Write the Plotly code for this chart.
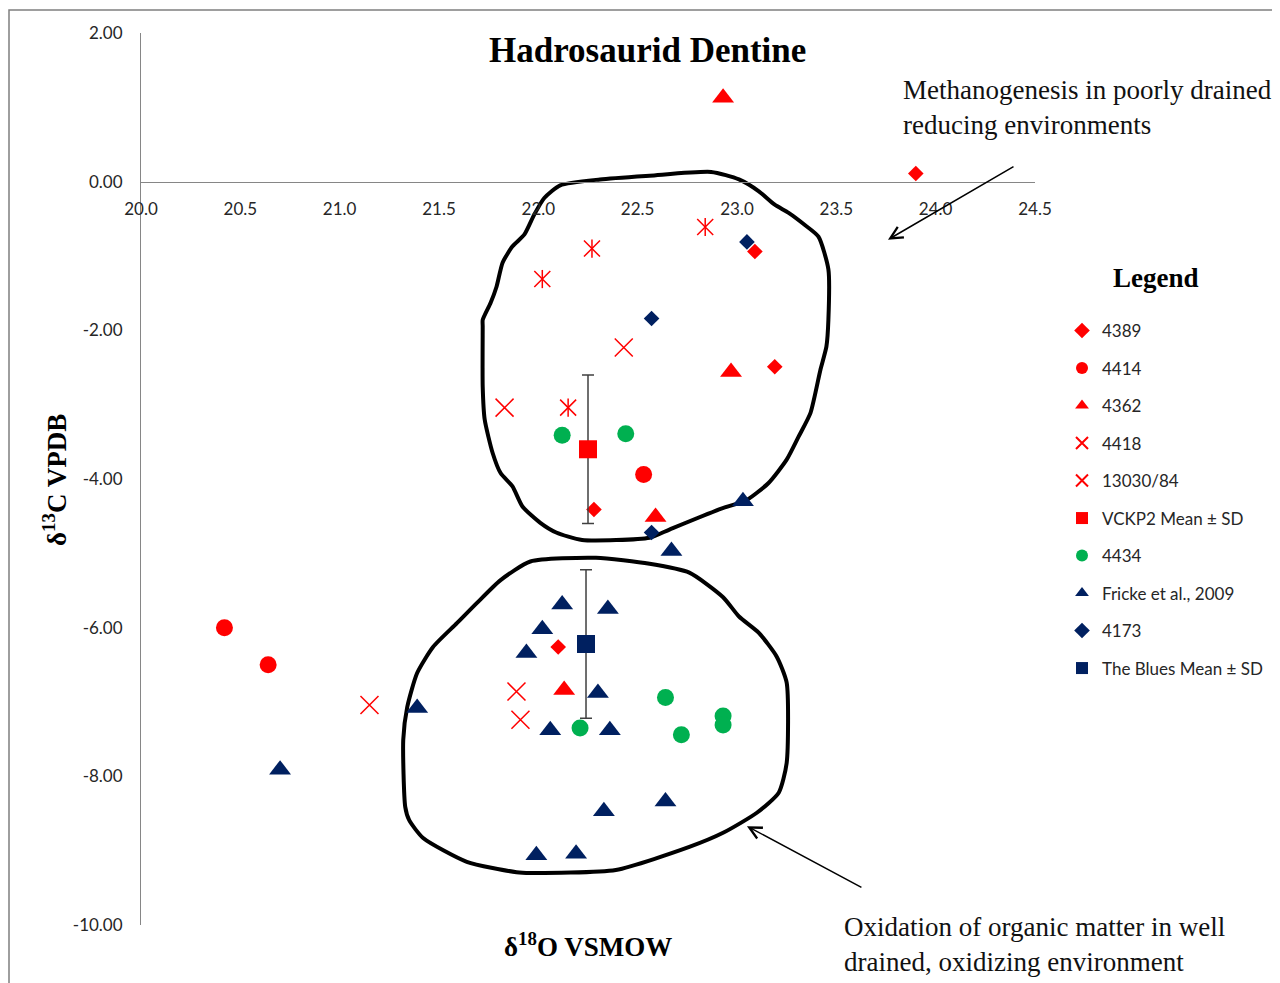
import plotly.graph_objects as go

# ---------------- data (δ18O VSMOW, δ13C VPDB) ----------------
d4389_x = [23.90, 23.09, 23.19, 22.28, 22.10]
d4389_y = [0.11, -0.94, -2.49, -4.41, -6.26]

d4414_x = [20.42, 20.64, 22.53]
d4414_y = [-6.00, -6.50, -3.94]

d4362_x = [22.93, 22.97, 22.59, 22.13]
d4362_y = [1.13, -2.56, -4.51, -6.84]

d4418_x = [21.83, 22.43, 21.15, 21.89, 21.91]
d4418_y = [-3.04, -2.23, -7.04, -6.86, -7.24]

d13030_x = [22.02, 22.27, 22.84, 22.15]
d13030_y = [-1.31, -0.90, -0.61, -3.04]

vckp2_x = [22.25]
vckp2_y = [-3.60]
vckp2_sd = [1.00]

d4434_x = [22.12, 22.44, 22.21, 22.64, 22.72, 22.93, 22.93]
d4434_y = [-3.41, -3.39, -7.35, -6.94, -7.44, -7.19, -7.31]

fricke_x = [20.70, 21.39, 22.67, 22.12, 22.35, 22.02, 21.94, 22.30,
            22.06, 22.36, 22.33, 22.64, 21.99, 22.19, 23.03]
fricke_y = [-7.91, -7.08, -4.97, -5.69, -5.75, -6.02, -6.34, -6.88,
            -7.38, -7.38, -8.47, -8.34, -9.06, -9.04, -4.30]

d4173_x = [23.05, 22.57, 22.57]
d4173_y = [-0.81, -1.84, -4.72]

blues_x = [22.24]
blues_y = [-6.22]
blues_sd = [1.00]

# hand-drawn outlines (data coordinates)
upper_loop_x = [21.72, 21.72, 21.73, 21.77, 21.81, 21.87, 21.92, 22.01, 22.09, 22.22,
                22.56, 22.66, 22.91, 23.05, 23.16, 23.25, 23.31, 23.37, 23.42, 23.45,
                23.46, 23.46, 23.41, 23.34, 23.26, 23.19, 23.11, 23.01, 22.87, 22.56,
                22.31, 22.11, 22.03, 21.98, 21.93, 21.87, 21.82, 21.79, 21.76, 21.72, 21.72]
upper_loop_y = [-1.95, -2.76, -3.20, -3.65, -3.92, -4.10, -4.37, -4.59, -4.72, -4.82,
                -4.79, -4.68, -4.41, -4.28, -4.05, -3.74, -3.43, -3.11, -2.53, -2.22,
                -1.86, -1.18, -0.74, -0.58, -0.42, -0.31, -0.13, 0.03, 0.13, 0.08,
                0.03, -0.05, -0.22, -0.44, -0.71, -0.87, -1.09, -1.41, -1.63, -1.86, -1.95]

lower_loop_x = [21.96, 22.29, 22.56, 22.76, 22.93, 23.01, 23.11, 23.20, 23.25, 23.25,
                23.21, 23.10, 22.93, 22.76, 22.39, 21.96, 21.89, 21.64, 21.42, 21.35,
                21.33, 21.32, 21.34, 21.39, 21.47, 21.59, 21.69, 21.81, 21.96]
lower_loop_y = [-5.11, -5.06, -5.14, -5.26, -5.59, -5.85, -6.07, -6.39, -6.74, -7.82,
                -8.22, -8.49, -8.76, -8.95, -9.26, -9.30, -9.29, -9.15, -8.83, -8.59,
                -8.41, -7.51, -7.07, -6.61, -6.26, -5.94, -5.67, -5.36, -5.11]

x_ticks = [20.0, 20.5, 21.0, 21.5, 22.0, 22.5, 23.0, 23.5, 24.0, 24.5]
y_ticks = [2, 0, -2, -4, -6, -8, -10]

RED = "#FF0000"
GREEN = "#00B050"
NAVY = "#002060"
SERIF = "Liberation Serif"
SANS = "Lato"

fig = go.Figure()

for lx, ly in [(upper_loop_x, upper_loop_y), (lower_loop_x, lower_loop_y)]:
    fig.add_trace(go.Scatter(x=lx, y=ly, mode="lines",
                             line=dict(color="black", width=4, shape="spline", smoothing=0.6),
                             showlegend=False, hoverinfo="skip"))

def add(name, x, y, symbol, color, size, group, open_line=None, err=None):
    marker = dict(symbol=symbol, color=color, size=size)
    if open_line:
        marker["line"] = dict(color=color, width=open_line)
    else:
        marker["line"] = dict(width=0)
    kw = {}
    if err is not None:
        kw["error_y"] = dict(type="data", array=err, color="#404040", thickness=1.5, width=6)
    fig.add_trace(go.Scatter(x=x, y=y, mode="markers", name=name, marker=marker,
                             legendgroup=group, **kw))

add("4389", d4389_x, d4389_y, "diamond", RED, 12, "g1")
add("4414", d4414_x, d4414_y, "circle", RED, 17, "g2")
add("4362", d4362_x, d4362_y, "triangle-up", RED, 19, "g3")
add("4418", d4418_x, d4418_y, "x-thin-open", RED, 18, "g4", open_line=1.5)
add("13030/84", d13030_x, d13030_y, "x-thin-open", RED, 16, "g5", open_line=1.5)
fig.add_trace(go.Scatter(x=d13030_x, y=d13030_y, mode="markers", showlegend=False, legendgroup="g5",
                         marker=dict(symbol="line-ns-open", size=13, color=RED,
                                     line=dict(color=RED, width=1.5))))
add("VCKP2 Mean ± SD", vckp2_x, vckp2_y, "square", RED, 18, "g6", err=vckp2_sd)
add("4434", d4434_x, d4434_y, "circle", GREEN, 17, "g7")
add("Fricke et al., 2009", fricke_x, fricke_y, "triangle-up", NAVY, 19, "g8")
add("4173", d4173_x, d4173_y, "diamond", NAVY, 12, "g9")
add("The Blues Mean ± SD", blues_x, blues_y, "square", NAVY, 18, "g10", err=blues_sd)

# page body adds an 8px offset; compensate
OFF = 8
L, R, T, B = 141, 1035, 33, 925          # plot area in screenshot pixels
W, H = 1280 - OFF, 983 - OFF
pw, ph = R - L, B - T

def px_x(p):
    return (p - L) / pw

def px_y(p):
    return (B - p) / ph

fig.update_layout(
    width=W, height=H, autosize=False,
    margin=dict(l=L - OFF, r=W - (R - OFF), t=T - OFF, b=H - (B - OFF), pad=0),
    paper_bgcolor="white", plot_bgcolor="white",
    showlegend=True,
    legend=dict(x=px_x(1062), y=px_y(313), xanchor="left", yanchor="top",
                font=dict(family=SANS, size=17, color="#262626"),
                tracegroupgap=12.4, itemsizing="constant", bgcolor="rgba(0,0,0,0)",
                itemwidth=30),
    xaxis=dict(range=[20.0, 24.5], tickvals=x_ticks, ticktext=[f"{v:.1f}" for v in x_ticks],
               showgrid=False, zeroline=False, showline=True, linecolor="#868686", linewidth=1,
               anchor="free", position=px_y(182), ticks="", ticklabelstandoff=12,
               tickfont=dict(family=SANS, size=17, color="#262626")),
    yaxis=dict(range=[-10, 2], tickvals=y_ticks, ticktext=[f"{v:.2f}" for v in y_ticks],
               showgrid=False, zeroline=False, showline=True, linecolor="#868686", linewidth=1,
               ticks="", ticklabelstandoff=14,
               tickfont=dict(family=SANS, size=17, color="#262626")),
    hovermode=False,
)

# outer frame
fig.add_shape(type="rect", xref="paper", yref="paper", x0=px_x(9), x1=px_x(1300), y0=px_y(1000), y1=px_y(10),
              line=dict(color="#7f7f7f", width=1.5), fillcolor="rgba(0,0,0,0)", layer="below")

ann = [
    dict(text="<b>Hadrosaurid Dentine</b>", x=px_x(647), y=px_y(50), size=35),
    dict(text="<b>δ<sup>18</sup>O VSMOW</b>", x=px_x(588), y=px_y(945), size=27),
    dict(text="<b>Legend</b>", x=px_x(1156), y=px_y(278), size=27),
]
for a in ann:
    fig.add_annotation(text=a["text"], x=a["x"], y=a["y"], xref="paper", yref="paper",
                       showarrow=False, xanchor="center", yanchor="middle",
                       font=dict(family=SERIF, size=a["size"], color="black"))

fig.add_annotation(text="<b>δ<sup>13</sup>C VPDB</b>", x=px_x(55), y=px_y(480), xref="paper", yref="paper",
                   showarrow=False, textangle=-90, xanchor="center", yanchor="middle",
                   font=dict(family=SERIF, size=27, color="black"))

fig.add_annotation(text="Methanogenesis in poorly drained<br>reducing environments",
                   x=px_x(901), y=px_y(108), xref="paper", yref="paper", showarrow=False,
                   xanchor="left", yanchor="middle", align="left",
                   font=dict(family=SERIF, size=27, color="#111111"))
fig.add_annotation(text="Oxidation of organic matter in well<br>drained, oxidizing environment",
                   x=px_x(842), y=px_y(944), xref="paper", yref="paper", showarrow=False,
                   xanchor="left", yanchor="middle", align="left",
                   font=dict(family=SERIF, size=27, color="#111111"))

# arrows (head in data coordinates, tail as pixel offset)
fig.add_annotation(x=23.76, y=-0.78, xref="x", yref="y", ax=127, ay=-74, text="",
                   showarrow=True, arrowhead=5, arrowsize=1.6, arrowwidth=1.5, arrowcolor="black")
fig.add_annotation(x=23.05, y=-8.67, xref="x", yref="y", ax=116, ay=62, text="",
                   showarrow=True, arrowhead=5, arrowsize=1.6, arrowwidth=1.5, arrowcolor="black")

fig.write_html("out.html")
